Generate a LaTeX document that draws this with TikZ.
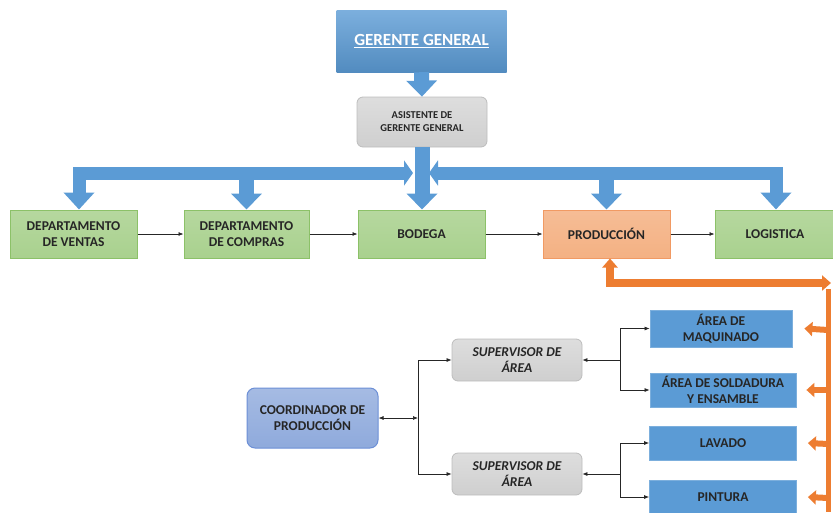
\documentclass[tikz,border=0pt]{standalone}
\usepackage{fontspec}
\setmainfont{Carlito}
\usetikzlibrary{arrows.meta}

\definecolor{ink}{HTML}{262626}
\definecolor{barblue}{HTML}{5B9BD5}
\definecolor{boxblue}{HTML}{5B9BD5}
\definecolor{greenfill}{HTML}{A9D18E}
\definecolor{greenedge}{HTML}{8CC168}
\definecolor{orangefill}{HTML}{F4B183}
\definecolor{orangeedge}{HTML}{F19A63}
\definecolor{orangeline}{HTML}{ED7D31}
\definecolor{grayfill}{HTML}{CFCFCF}
\definecolor{grayedge}{HTML}{BDBDBD}
\definecolor{coordfill}{HTML}{8FAADC}
\definecolor{coordedge}{HTML}{6C8FD6}

\tikzset{
  lbl/.style={font=\bfseries\fontsize{13.5}{15.5}\selectfont, text=ink, align=center, inner sep=0pt},
  deptbox/.style={lbl, draw=greenedge, line width=1pt, top color=greenfill!85!white, bottom color=greenfill, minimum width=#1, minimum height=48pt},
  prodbox/.style={lbl, draw=orangeedge, line width=1pt, top color=orangefill!85!white, bottom color=orangefill, minimum width=#1, minimum height=48pt},
  graybox/.style={lbl, draw=grayedge, line width=0.8pt, rounded corners=6pt, top color=grayfill!70!white, bottom color=grayfill},
  areabox/.style={lbl, draw=barblue!80!white, line width=0.8pt, fill=boxblue},
  thin/.style={draw=ink, line width=0.7pt, -{Latex[length=5pt,width=4pt]}},
  bigarrow/.style={draw=barblue, line width=15pt, -{Triangle[length=16pt,width=30pt]}},
  bigdouble/.style={draw=barblue, line width=13pt, line join=miter, {Triangle[length=9pt,width=25pt]}-{Triangle[length=17pt,width=30pt]}},
  orangearrow/.style={draw=orangeline, line width=#1, line join=miter}
}

\begin{document}
\begin{tikzpicture}[x=1pt, y=-1pt]
\useasboundingbox (0,0) rectangle (833,512);

% top level
\node[lbl, font=\bfseries\fontsize{17}{19}\selectfont, text=white, top color=barblue!80!white, bottom color=barblue!90!black,
      minimum width=170pt, minimum height=62pt] (gerente) at (421.5,41) {\underline{GERENTE GENERAL}};
\node[graybox, font=\bfseries\fontsize{10.5}{13}\selectfont, minimum width=130pt, minimum height=50pt] (asist) at (422,122)
      {ASISTENTE DE\\GERENTE GENERAL};

% departments
\node[deptbox=127pt] (ventas)  at (73.5,234) {DEPARTAMENTO\\DE VENTAS};
\node[deptbox=125pt] (compras) at (246.5,234) {DEPARTAMENTO\\DE COMPRAS};
\node[deptbox=127pt] (bodega)  at (421.5,234) {BODEGA};
\node[prodbox=127pt] (prod)    at (606.5,234) {PRODUCCIÓN};
\node[deptbox=120pt] (logis)   at (775,234) {LOGISTICA};

% production structure
\node[lbl, draw=coordedge, line width=1pt, rounded corners=8pt, top color=coordfill!80!white, bottom color=coordfill,
      minimum width=131pt, minimum height=60pt] (coord) at (312.5,418) {COORDINADOR DE\\PRODUCCIÓN};
\node[graybox, font=\bfseries\itshape\fontsize{13.5}{15.5}\selectfont, minimum width=130pt, minimum height=42pt] (sup1) at (517,360) {SUPERVISOR DE\\ÁREA};
\node[graybox, font=\bfseries\itshape\fontsize{13.5}{15.5}\selectfont, minimum width=130pt, minimum height=42pt] (sup2) at (517,474) {SUPERVISOR DE\\ÁREA};

\node[areabox, minimum width=142pt, minimum height=37pt] (maq)  at (721,328.5) {ÁREA DE\\MAQUINADO};
\node[areabox, minimum width=146pt, minimum height=34pt] (sold) at (723,390) {ÁREA DE SOLDADURA\\Y ENSAMBLE};
\node[areabox, minimum width=147pt, minimum height=34pt] (lav)  at (723,443) {LAVADO};
\node[areabox, minimum width=147pt, minimum height=34pt] (pint) at (723,497) {PINTURA};

% block arrows from management
\coordinate (barL) at (79,173);
\coordinate (barR) at (776,173);
\coordinate (tipL) at (413,173);
\coordinate (tipR) at (429,173);
\draw[bigarrow] (gerente.south) -- (asist.north);
\draw[bigdouble] (tipL) -- (barL) -- (barL |- ventas.north);
\draw[bigdouble] (tipR) -- (barR) -- (barR |- logis.north);
\draw[bigarrow] (compras.north |- barL) -- (compras.north);
\draw[bigarrow] (prod.north |- barL) -- (prod.north);
\draw[bigarrow] (asist.south) -- (asist.south |- bodega.north);

% process flow
\draw[thin] (ventas) -- (compras);
\draw[thin] (compras) -- (bodega);
\draw[thin] (bodega) -- (prod);
\draw[thin] (prod) -- (logis);

% supervision links
\coordinate (jc) at (418,418);
\draw[thin, {Latex[length=5pt,width=4pt]}-{Latex[length=5pt,width=4pt]}] (coord.east) -- (jc);
\draw[thin] (jc) |- (sup1.west);
\draw[thin] (jc) |- (sup2.west);
\coordinate (j1) at (620,360);
\coordinate (j2) at (620,474);
\draw[thin] (j1) -- (sup1.east);
\draw[thin] (j2) -- (sup2.east);
\draw[thin] (j1) |- (maq.west);
\draw[thin] (j1) |- (sold.west);
\draw[thin] (j2) |- (lav.west);
\draw[thin] (j2) |- (pint.west);

% orange feedback line
\coordinate (oc) at (610,283);
\coordinate (oe) at (831,283);
\coordinate (ov) at (828,289);
\draw[orangearrow=8pt, -{Triangle[length=9pt,width=15pt]}] (oc) -- ([xshift=3.5pt]prod.south);
\draw[orangearrow=8pt, -{Triangle[length=9pt,width=15pt]}] ([xshift=-4pt]oc) -- (oe);
\draw[orangearrow=5pt] (ov) -- (828,512);
\draw[orangearrow=6pt, -{Triangle[length=8pt,width=14pt]}] (828,330) -- ([xshift=12pt]maq.east);
\draw[orangearrow=6pt, -{Triangle[length=8pt,width=14pt]}] (828,390) -- ([xshift=10pt]sold.east);
\draw[orangearrow=6pt, -{Triangle[length=8pt,width=14pt]}] (828,444) -- ([xshift=11pt]lav.east);
\draw[orangearrow=6pt, -{Triangle[length=8pt,width=14pt]}] (828,498) -- ([xshift=11pt]pint.east);
\end{tikzpicture}
\end{document}
